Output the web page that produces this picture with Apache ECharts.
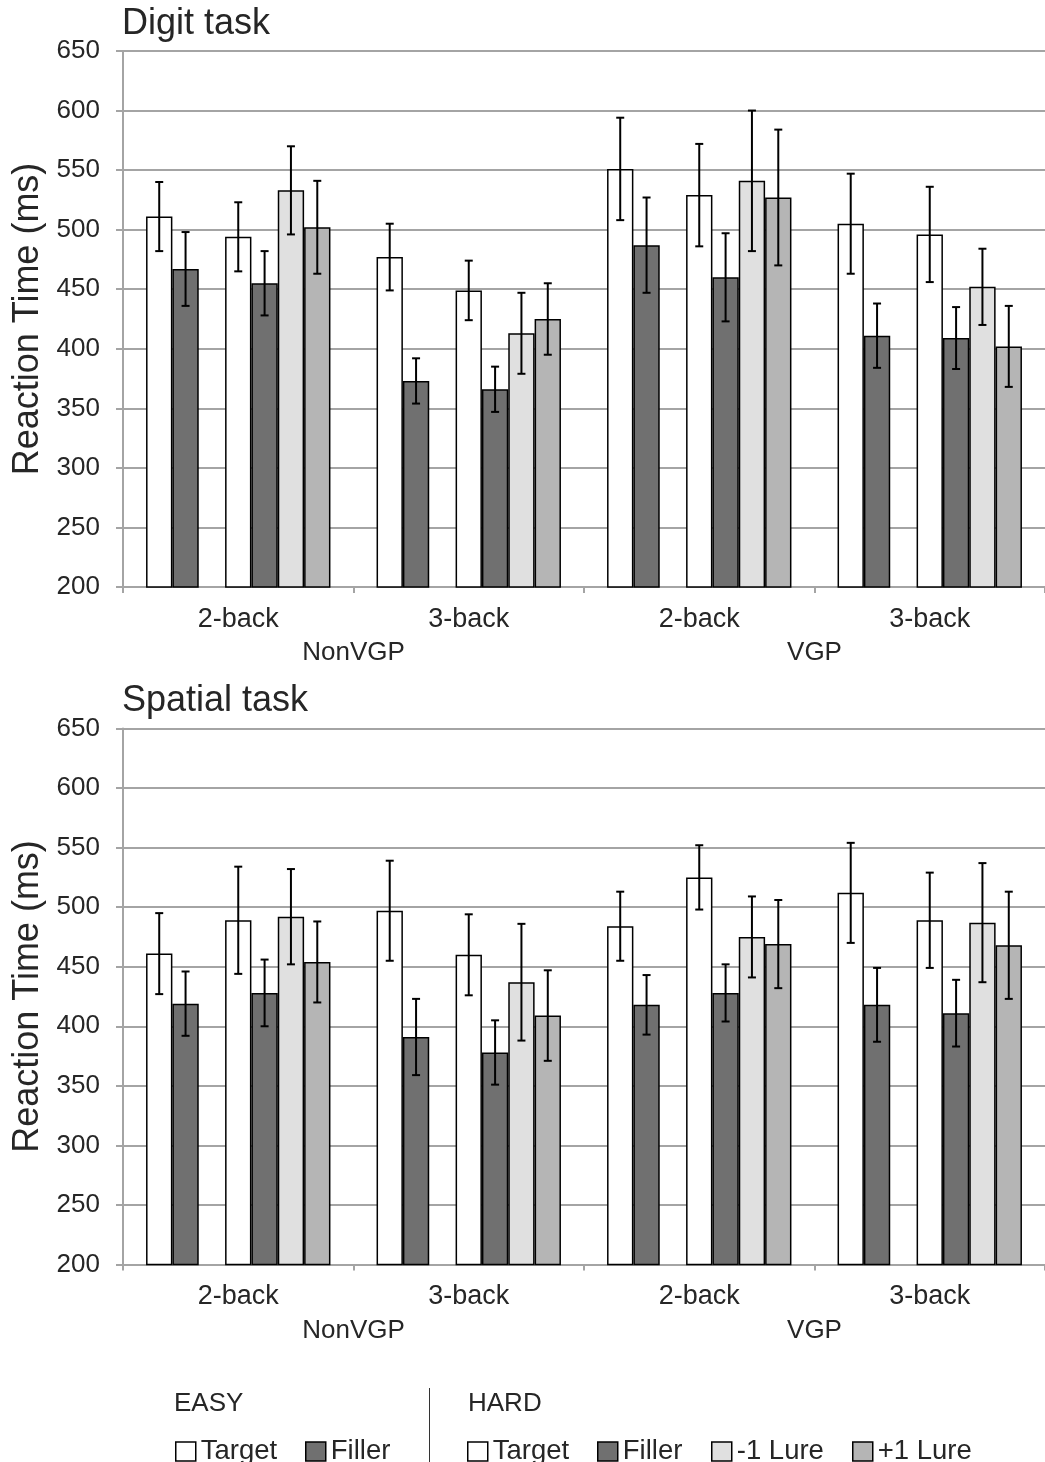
<!DOCTYPE html>
<html>
<head>
<meta charset="utf-8">
<script src="https://cdn.jsdelivr.net/npm/echarts@6/dist/echarts.min.js"></script>
<style>
html,body{margin:0;padding:0;background:#fff;}
#chart{width:1045px;height:1462px;}
</style>
</head>
<body>
<div id="chart"></div>
<script>
// ---- data ----
const categories = ['2-back', '3-back', '2-back', '3-back'];
const groups = ['NonVGP', 'VGP'];
const seriesNames = ['EASY Target', 'EASY Filler', 'HARD Target', 'HARD Filler', 'HARD -1 Lure', 'HARD +1 Lure'];
const yTicks = { min: 200, max: 650, step: 50 };

// Digit task means (NonVGP 2-back, NonVGP 3-back, VGP 2-back, VGP 3-back)
const digitEasyTarget = [511, 477, 551, 505];
const digitEasyFiller = [467, 373, 487, 411];
const digitHardTarget = [494, 449, 529, 496];
const digitHardFiller = [455, 366, 460, 409];
const digitHardLureM1 = [533, 413, 541, 452];
const digitHardLureP1 = [502, 425, 527, 402];
// Digit task error (half-length of error bar)
const digitEasyTargetErr = [29, 28, 43, 42];
const digitEasyFillerErr = [31, 19, 40, 27];
const digitHardTargetErr = [29, 25, 43, 40];
const digitHardFillerErr = [27, 19, 37, 26];
const digitHardLureM1Err = [37, 34, 59, 32];
const digitHardLureP1Err = [39, 30, 57, 34];

// Spatial task means
const spatialEasyTarget = [461, 497, 484, 512];
const spatialEasyFiller = [419, 391, 418, 418];
const spatialHardTarget = [489, 460, 525, 489];
const spatialHardFiller = [428, 378, 428, 411];
const spatialHardLureM1 = [492, 437, 475, 487];
const spatialHardLureP1 = [454, 409, 469, 468];
// Spatial task error
const spatialEasyTargetErr = [34, 42, 29, 42];
const spatialEasyFillerErr = [27, 32, 25, 31];
const spatialHardTargetErr = [45, 34, 27, 40];
const spatialHardFillerErr = [28, 27, 24, 28];
const spatialHardLureM1Err = [40, 49, 34, 50];
const spatialHardLureP1Err = [34, 38, 37, 45];

// ---- styling ----
const FONT = '"Liberation Sans", Arial, sans-serif';
const FW = 'normal';
const TXT = '#262626';
const GRAY = '#a4a4a4';
const colors = ['#ffffff', '#707070', '#ffffff', '#707070', '#e0e0e0', '#b5b5b5'];
// slot positions within a category (slot 2 is an empty spacer between EASY and HARD)
const slots = [0, 1, 3, 4, 5, 6];
const NSLOT = 7;
const CATGAP = 0.2;
const legendLefts = [175, 305, 467, 597, 711, 852];

const panels = [
  { title: 'Digit task', top: 51,
    means: [digitEasyTarget, digitEasyFiller, digitHardTarget, digitHardFiller, digitHardLureM1, digitHardLureP1],
    errs: [digitEasyTargetErr, digitEasyFillerErr, digitHardTargetErr, digitHardFillerErr, digitHardLureM1Err, digitHardLureP1Err] },
  { title: 'Spatial task', top: 728.5,
    means: [spatialEasyTarget, spatialEasyFiller, spatialHardTarget, spatialHardFiller, spatialHardLureM1, spatialHardLureP1],
    errs: [spatialEasyTargetErr, spatialEasyFillerErr, spatialHardTargetErr, spatialHardFillerErr, spatialHardLureM1Err, spatialHardLureP1Err] }
];

const PH = 536;
const grids = [], xAxes = [], yAxes = [], series = [], titles = [];

panels.forEach((p, pi) => {
  grids.push({ left: 123, top: p.top, width: 929, height: PH, containLabel: false });
  titles.push({ text: p.title, left: 122, top: p.top - 45, padding: 0,
    textStyle: { fontFamily: FONT, fontWeight: FW, fontSize: 36, color: TXT } });
  xAxes.push({
    type: 'category', gridIndex: pi, data: categories, position: 'bottom',
    axisLine: { show: true, lineStyle: { color: GRAY, width: 2 } },
    axisTick: { show: true, length: 6, lineStyle: { color: GRAY, width: 2 } },
    axisLabel: { margin: 19, fontFamily: FONT, fontWeight: FW, fontSize: 27, color: TXT },
    splitLine: { show: false }
  });
  xAxes.push({
    type: 'category', gridIndex: pi, data: groups, position: 'bottom',
    axisLine: { show: false }, axisTick: { show: false },
    axisLabel: { margin: 53, fontFamily: FONT, fontWeight: FW, fontSize: 26, color: TXT },
    splitLine: { show: false }
  });
  yAxes.push({
    type: 'value', gridIndex: pi, min: yTicks.min, max: yTicks.max, interval: yTicks.step,
    name: 'Reaction Time (ms)', nameLocation: 'middle', nameGap: 77, nameRotate: 90,
    nameTextStyle: { fontFamily: FONT, fontWeight: FW, fontSize: 36, color: TXT },
    axisLine: { show: true, lineStyle: { color: GRAY, width: 2 } },
    axisTick: { show: true, length: 7, lineStyle: { color: GRAY, width: 2 } },
    axisLabel: { margin: 23, fontFamily: FONT, fontWeight: FW, fontSize: 26, color: TXT },
    splitLine: { show: true, lineStyle: { color: GRAY, width: 2 } }
  });
  const xi = pi * 2;
  for (let s = 0; s < NSLOT; s++) {
    const k = slots.indexOf(s);
    if (k < 0) {
      series.push({ type: 'bar', name: '_spacer' + pi, xAxisIndex: xi, yAxisIndex: pi,
        data: categories.map(() => null), barGap: 0, barCategoryGap: (CATGAP * 100) + '%', silent: true });
      continue;
    }
    series.push({
      type: 'bar', name: seriesNames[k], xAxisIndex: xi, yAxisIndex: pi,
      data: p.means[k], barGap: 0, barCategoryGap: (CATGAP * 100) + '%',
      itemStyle: { color: colors[k], borderColor: '#000', borderWidth: 1.5 },
      z: 2
    });
  }
  // error bars
  const errData = [];
  p.means.forEach((arr, k) => {
    arr.forEach((m, ci) => {
      errData.push([ci, slots[k], m - p.errs[k][ci], m + p.errs[k][ci]]);
    });
  });
  series.push({
    type: 'custom', xAxisIndex: xi, yAxisIndex: pi, z: 5, silent: true,
    encode: { x: 0, y: [2, 3] },
    data: errData,
    renderItem: function (params, api) {
      const ci = api.value(0), slot = api.value(1);
      const lo = api.coord([ci, api.value(2)]);
      const hi = api.coord([ci, api.value(3)]);
      const band = api.size([1, 0])[0];
      const bw = band * (1 - CATGAP) / NSLOT;
      const x = lo[0] - band * (1 - CATGAP) / 2 + bw * (slot + 0.5);
      const cap = 4;
      const st = { stroke: '#000', lineWidth: 2 };
      return { type: 'group', children: [
        { type: 'line', shape: { x1: x, y1: lo[1], x2: x, y2: hi[1] }, style: st },
        { type: 'line', shape: { x1: x - cap, y1: hi[1], x2: x + cap, y2: hi[1] }, style: st },
        { type: 'line', shape: { x1: x - cap, y1: lo[1], x2: x + cap, y2: lo[1] }, style: st }
      ]};
    }
  });
});

titles.push({ text: 'EASY', left: 174, top: 1391, padding: 0,
  textStyle: { fontFamily: FONT, fontWeight: FW, fontSize: 26, color: TXT } });
titles.push({ text: 'HARD', left: 468, top: 1391, padding: 0,
  textStyle: { fontFamily: FONT, fontWeight: FW, fontSize: 26, color: TXT } });

const legends = seriesNames.map((n, i) => ({
  orient: 'horizontal', top: 1437.5, left: legendLefts[i], icon: 'rect',
  itemWidth: 20, itemHeight: 19, padding: 0, selectedMode: false,
  itemStyle: { borderColor: '#000', borderWidth: 1.5 },
  textStyle: { fontFamily: FONT, fontWeight: FW, fontSize: 27.5, color: TXT },
  formatter: nm => nm.replace(/^(EASY|HARD) /, ''),
  data: [n]
}));

const option = {
  animation: false,
  backgroundColor: '#fff',
  title: titles,
  grid: grids,
  xAxis: xAxes,
  yAxis: yAxes,
  legend: legends,
  graphic: [{ type: 'line', shape: { x1: 429.5, y1: 1388, x2: 429.5, y2: 1462 }, style: { stroke: '#333', lineWidth: 1 } }],
  series: series
};

const chart = echarts.init(document.getElementById('chart'), null, { renderer: 'canvas' });
chart.setOption(option);
</script>
</body>
</html>
